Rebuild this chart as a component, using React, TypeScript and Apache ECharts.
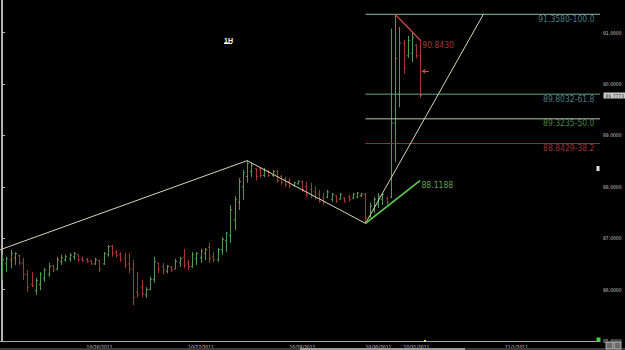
import React, { useEffect, useRef } from 'react';
import * as echarts from 'echarts';

// ---- time axis: hourly sessions ----
const sessions = [
  { day: '10/25/2011', start: 4, end: 23 },
  { day: '10/26/2011', start: 0, end: 23 },
  { day: '10/27/2011', start: 0, end: 23 },
  { day: '10/28/2011', start: 0, end: 17 },
  { day: '10/30/2011', start: 15, end: 23 },
  { day: '10/31/2011', start: 0, end: 23 },
  { day: '11/1/2011', start: 0, end: 22 },
];
const categories: string[] = [];
const sessionStarts: number[] = [];
sessions.forEach((s) => {
  sessionStarts.push(categories.length);
  for (let h = s.start; h <= s.end; h++) categories.push(`${s.day} ${String(h).padStart(2, '0')}:00`);
});

// ---- OHLC hourly bars ----
const opens = [
  86.28, 86.50, 86.58, 86.62, 86.66, 86.52, 86.30, 86.10, 85.98, 86.10,
  86.22, 86.30, 86.47, 86.40, 86.55, 86.58, 86.60, 86.64, 86.68, 86.60,
  86.58, 86.56, 86.50, 86.57, 86.50, 86.68, 86.84, 86.72, 86.68, 86.60,
  86.50, 86.40, 85.95, 86.05, 85.90, 86.00, 86.20, 86.52, 86.45, 86.36,
  86.44, 86.40, 86.52, 86.62, 86.52, 86.45, 86.60, 86.62, 86.70, 86.82,
  86.65, 86.58, 86.78, 86.95, 87.05, 87.35, 87.70, 88.00, 88.20, 88.30,
  88.35, 88.35, 88.22, 88.30, 88.22, 88.30, 88.20, 88.15, 88.10, 88.03,
  88.06, 88.10, 88.00, 87.95, 87.90, 87.85, 87.78, 87.80, 87.75, 87.82,
  87.76, 87.78, 87.80, 87.78, 87.80, 87.83, 87.85, 87.42, 87.55, 87.65,
  87.75, 87.78, 87.80, 89.24, 89.80, 90.80, 90.55, 90.60, 90.75, 90.55,
];
const highs = [
  86.68, 86.64, 86.77, 86.73, 86.68, 86.62, 86.38, 86.34, 86.23, 86.34,
  86.42, 86.52, 86.48, 86.64, 86.68, 86.68, 86.71, 86.73, 86.68, 86.64,
  86.62, 86.58, 86.62, 86.58, 86.73, 86.87, 86.87, 86.77, 86.73, 86.71,
  86.71, 86.58, 86.34, 86.19, 86.05, 86.25, 86.64, 86.52, 86.52, 86.48,
  86.46, 86.60, 86.64, 86.79, 86.58, 86.73, 86.73, 86.79, 86.81, 86.91,
  86.73, 86.81, 87.02, 87.12, 87.64, 87.82, 88.17, 88.33, 88.51, 88.47,
  88.37, 88.39, 88.37, 88.33, 88.33, 88.33, 88.23, 88.19, 88.17, 88.10,
  88.13, 88.13, 88.10, 88.08, 88.00, 87.94, 87.88, 87.94, 87.88, 87.84,
  87.88, 87.80, 87.84, 87.88, 87.90, 87.88, 87.88, 87.69, 87.80, 87.88,
  87.88, 87.80, 91.08, 91.358, 91.11, 90.86, 90.94, 91.01, 90.78, 90.843,
];
const lows = [
  86.19, 86.34, 86.42, 86.48, 86.48, 86.19, 85.96, 86.05, 85.90, 85.99,
  86.15, 86.25, 86.34, 86.38, 86.48, 86.54, 86.54, 86.58, 86.54, 86.54,
  86.52, 86.48, 86.48, 86.34, 86.48, 86.64, 86.64, 86.62, 86.54, 86.42,
  86.32, 85.70, 85.84, 85.86, 85.84, 85.99, 86.13, 86.32, 86.30, 86.32,
  86.34, 86.40, 86.44, 86.42, 86.38, 86.42, 86.48, 86.52, 86.58, 86.52,
  86.54, 86.54, 86.68, 86.73, 86.91, 87.16, 87.55, 87.75, 88.08, 88.19,
  88.13, 88.17, 88.19, 88.19, 88.19, 88.08, 88.04, 88.00, 87.98, 88.00,
  88.04, 87.90, 87.80, 87.78, 87.75, 87.69, 87.65, 87.78, 87.71, 87.69,
  87.75, 87.69, 87.71, 87.76, 87.78, 87.80, 87.289, 87.40, 87.49, 87.59,
  87.65, 87.65, 87.78, 88.48, 89.55, 90.20, 90.51, 90.43, 90.50, 89.73,
];
const closes = [
  86.58, 86.60, 86.70, 86.70, 86.52, 86.30, 86.05, 86.08, 86.18, 86.30,
  86.38, 86.45, 86.38, 86.58, 86.62, 86.64, 86.67, 86.70, 86.58, 86.56,
  86.55, 86.50, 86.58, 86.40, 86.70, 86.84, 86.70, 86.66, 86.58, 86.48,
  86.40, 85.85, 85.90, 85.92, 86.00, 86.20, 86.55, 86.40, 86.38, 86.45,
  86.38, 86.55, 86.60, 86.48, 86.45, 86.68, 86.70, 86.75, 86.78, 86.60,
  86.58, 86.78, 86.98, 87.10, 87.55, 87.75, 88.10, 88.28, 88.45, 88.42,
  88.20, 88.22, 88.32, 88.22, 88.30, 88.12, 88.08, 88.05, 88.02, 88.08,
  88.11, 87.95, 87.85, 87.82, 87.78, 87.72, 87.70, 87.90, 87.85, 87.72,
  87.85, 87.72, 87.75, 87.86, 87.88, 87.86, 87.40, 87.62, 87.75, 87.82,
  87.85, 87.70, 89.24, 90.50, 90.80, 90.30, 90.85, 90.90, 90.55, 89.7773,
];
const lastPrice = 89.7773;

// ---- Fibonacci retracement (swing low -> swing high) ----
const fibStartIndex = 86;
const fibLevels = [91.358, 89.8032, 89.3235, 88.8429];
const fibLabels = ['91.3580-100.0', '89.8032-61.8', '89.3235-50.0', '88.8429-38.2'];

// ---- trendlines: [barIndex, price] ----
const trendRise = [[-0.5, 86.775], [58, 88.51]];
const trendFall = [[58, 88.51], [86, 87.289]];
const trendSteep = [[86, 87.289], [113.9, 91.358]];
const trendGreen = [[86, 87.289], [98.9, 88.1188]];
const trendRed = [[93, 91.358], [99.1, 90.843]];
const greenLabel = '88.1188';
const redLabel = '90.8430';
const arrowPoints = [[101.0, 90.25], [99.3, 90.25]];

const GREEN = '#4f9a4f';
const RED = '#a83434';
const NARROW = "'DejaVu Sans Condensed', 'Liberation Sans Narrow', sans-serif";

export default function App() {
  const ref = useRef<HTMLDivElement>(null);
  useEffect(() => {
    if (!ref.current) return;
    const chart = echarts.init(ref.current, null, { renderer: 'svg' });
    const N = categories.length;
    const ohlc = opens.map((o, i) => [i, o, highs[i], lows[i], closes[i]]);
    const fibColorsLine = ['#8dbfae', '#5ea88c', '#b5c9ae', '#a82c2c'];
    const fibColorsText = ['#5ea3a6', '#5ea3a6', '#58a858', '#c04040'];
    const trendColor = '#d9d6b4';

    const lineSeries = (data: number[][], color: string, width: number) => ({
      type: 'line',
      xAxisIndex: 1,
      yAxisIndex: 0,
      data,
      symbol: 'none',
      silent: true,
      lineStyle: { color, width },
      z: 5,
    });

    chart.setOption({
      animation: false,
      backgroundColor: '#000',
      grid: { left: 0, top: 0, width: 600, height: 341 },
      xAxis: [
        {
          type: 'category',
          data: categories,
          boundaryGap: true,
          axisLine: { show: true, lineStyle: { color: '#a8a8a8', width: 1 } },
          axisTick: { show: false },
          splitLine: { show: false },
          axisLabel: {
            interval: (idx: number) => idx > 0 && sessionStarts.includes(idx),
            formatter: (v: string) => v.split(' ')[0],
            align: 'left',
            fontSize: 5,
            fontFamily: NARROW,
            color: '#d0d0d0',
            margin: 3,
          },
        },
        { type: 'value', min: -0.5, max: N - 0.5, show: false },
      ],
      yAxis: {
        type: 'value',
        position: 'right',
        min: 85,
        max: 91.636,
        interval: 1,
        splitLine: { show: false },
        axisLine: { show: true, lineStyle: { color: '#b8b8b8', width: 1 } },
        axisTick: { show: true, length: 3, lineStyle: { color: '#b8b8b8' } },
        axisLabel: {
          formatter: (v: number) => v.toFixed(4),
          fontSize: 5,
          fontFamily: NARROW,
          color: '#c8c8c8',
          margin: 3,
          showMaxLabel: false,
        },
      },
      graphic: [
        { type: 'line', shape: { x1: 1.5, y1: 0, x2: 1.5, y2: 341 }, style: { stroke: '#a8a8a8', lineWidth: 1 }, z: 10 },
        { type: 'text', left: 224, top: 37, style: { text: '1H', fill: '#ffffff', font: 'bold 7px Arial' }, z: 10 },
        { type: 'line', shape: { x1: 224, y1: 43.5, x2: 232, y2: 43.5 }, style: { stroke: '#ffffff', lineWidth: 1 }, z: 10 },
        { type: 'rect', shape: { x: 0, y: 348, width: 625, height: 2 }, style: { fill: '#3a3a3a' }, z: 10 },
        { type: 'rect', shape: { x: 300, y: 348, width: 165, height: 2 }, style: { fill: '#9a9a9a' }, z: 11 },
        { type: 'rect', shape: { x: 596.5, y: 337.5, width: 4, height: 4 }, style: { fill: '#3fd23f' }, z: 11 },
        { type: 'rect', shape: { x: 606, y: 342, width: 7, height: 7 }, style: { fill: '#6a6a6a', stroke: '#cfcfcf', lineWidth: 0.8 }, z: 11 },
        { type: 'rect', shape: { x: 614, y: 342, width: 7, height: 7 }, style: { fill: '#6a6a6a', stroke: '#cfcfcf', lineWidth: 0.8 }, z: 11 },
        { type: 'rect', shape: { x: 596.5, y: 166, width: 3, height: 5 }, style: { fill: '#e0e0e0' }, z: 11 },
        { type: 'rect', shape: { x: 424, y: 340, width: 2, height: 2 }, style: { fill: '#e8e070' }, z: 11 },
      ],
      series: [
        ...fibLevels.map((lv, k) => lineSeries([[fibStartIndex, lv], [N - 0.5, lv]], fibColorsLine[k], 1)),
        lineSeries(trendRise, trendColor, 1),
        lineSeries(trendFall, trendColor, 1),
        lineSeries(trendSteep, trendColor, 1),
        lineSeries(trendGreen, '#5fd04a', 1.6),
        lineSeries(trendRed, '#d64444', 1.3),
        {
          type: 'lines',
          coordinateSystem: 'cartesian2d',
          xAxisIndex: 1,
          yAxisIndex: 0,
          symbol: ['none', 'arrow'],
          symbolSize: 4,
          lineStyle: { color: '#d64444', width: 1, opacity: 1 },
          data: [{ coords: arrowPoints }],
          z: 6,
        },
        {
          type: 'custom',
          xAxisIndex: 0,
          yAxisIndex: 0,
          data: ohlc,
          encode: { x: 0, y: [1, 2, 3, 4] },
          z: 4,
          renderItem: (params: any, api: any) => {
            const i = api.value(0);
            const o = api.value(1);
            const h = api.value(2);
            const l = api.value(3);
            const c = api.value(4);
            const ph = api.coord([i, h]);
            const pl = api.coord([i, l]);
            const po = api.coord([i, o]);
            const pc = api.coord([i, c]);
            const x = Math.round(ph[0]) + 0.5;
            const color = c >= o ? GREEN : RED;
            const st = { stroke: color, lineWidth: 1 };
            return {
              type: 'group',
              children: [
                { type: 'line', shape: { x1: x, y1: ph[1], x2: x, y2: pl[1] }, style: st },
                { type: 'line', shape: { x1: x - 1.6, y1: po[1], x2: x, y2: po[1] }, style: st },
                { type: 'line', shape: { x1: x, y1: pc[1], x2: x + 1.6, y2: pc[1] }, style: st },
              ],
            };
          },
        },
        {
          type: 'scatter',
          xAxisIndex: 1,
          yAxisIndex: 0,
          symbolSize: 1,
          clip: false,
          itemStyle: { color: 'rgba(0,0,0,0)' },
          silent: true,
          z: 8,
          data: [
            ...fibLevels.map((lv, k) => ({
              value: [N - 0.5, lv],
              label: {
                show: true,
                formatter: fibLabels[k],
                position: 'left',
                distance: 5,
                offset: [0, 4.5],
                color: fibColorsText[k],
                fontSize: 8.5,
                fontFamily: NARROW,
              },
            })),
            {
              value: trendGreen[1],
              label: { show: true, formatter: greenLabel, position: 'right', distance: 1, offset: [0, 4], color: '#7fcf6f', fontSize: 8.5, fontFamily: NARROW },
            },
            {
              value: trendRed[1],
              label: { show: true, formatter: redLabel, position: 'right', distance: 1, offset: [0, 4], color: '#d64444', fontSize: 8.5, fontFamily: NARROW },
            },
            {
              value: [N - 0.5, lastPrice],
              label: {
                show: true,
                formatter: lastPrice.toFixed(4),
                position: 'right',
                distance: 3,
                color: '#000',
                backgroundColor: '#ffffff',
                padding: [1, 2, 0, 2],
                fontSize: 5,
                fontFamily: NARROW,
              },
            },
          ],
        },
      ],
    });
    return () => chart.dispose();
  }, []);
  return (
    <div
      ref={ref}
      style={{ position: 'fixed', left: 0, top: 0, width: 625, height: 350, background: '#000' }}
    />
  );
}
